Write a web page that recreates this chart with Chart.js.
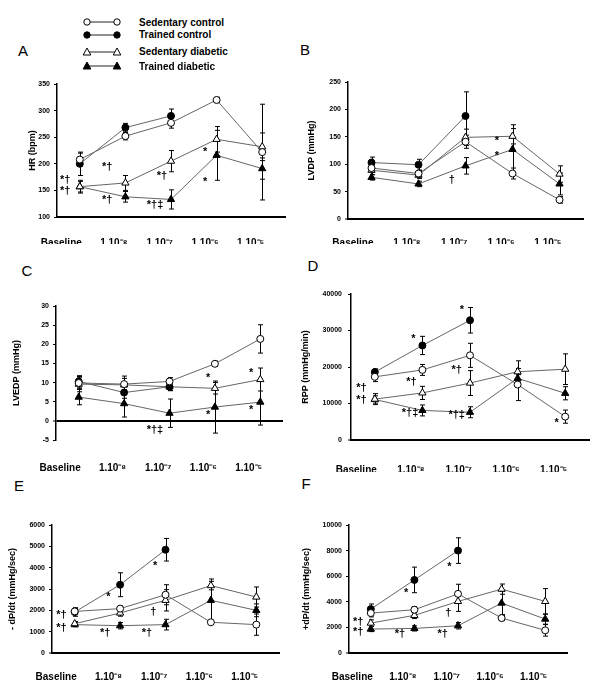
<!DOCTYPE html>
<html><head><meta charset="utf-8">
<script src="https://cdn.jsdelivr.net/npm/chart.js@4"></script>
<style>
body{margin:0;background:#fff;width:600px;height:689px;position:relative;overflow:hidden;font-family:"Liberation Sans",Arial,sans-serif;}
canvas{position:absolute;}
.pl{position:absolute;font-size:15px;color:#000;line-height:15px;transform:translate(-50%,-50%);}
.lr{position:absolute;left:80px;height:14px;display:flex;align-items:center;transform:translateY(-50%);}
.lr span{font-weight:bold;font-size:10px;margin-left:15px;white-space:nowrap;}
</style></head><body>
<script>
// ---------- data ----------
const categories = ['Baseline', '1.10⁻⁸', '1.10⁻⁷', '1.10⁻⁶', '1.10⁻⁵'];
const seriesNames = ['Sedentary control', 'Trained control', 'Sedentary diabetic', 'Trained diabetic'];

// A: HR (bpm)
const hrSC = [208, 252, 277, 320, 222];   const hrSCerr = [12, 7, 10, 5, 90];
const hrTC = [200, 268, 290, null, null]; const hrTCerr = [22, 8, 13, null, null];
const hrSD = [157, 164, 205, 246, 232];   const hrSDerr = [12, 14, 20, 24, 26];
const hrTD = [157, 138, 133, 216, 191];   const hrTDerr = [10, 10, 18, 47, 20];
const hrNotes = [[0.6, 194, '*†'], [1.8, 177, '*†'], [2.75, 222, '*'], [2.75, 166, '*'], [0.6, 132, '*†'], [1.65, 123, '*†‡'], [-0.32, 170, '*†'], [-0.32, 148, '*†']];

// B: LVDP (mmHg)
const lvdpSC = [93, 83, 141, 83, 35];      const lvdpSCerr = [8, 6, 12, 10, 6];
const lvdpTC = [103, 99, 188, null, null]; const lvdpTCerr = [10, 10, 44, null, null];
const lvdpSD = [89, 80, 149, 151, 82];     const lvdpSDerr = [8, 6, 15, 14, 15];
const lvdpTD = [76, 64, 97, 127, 64];      const lvdpTDerr = [5, 5, 15, 45, 20];
const lvdpNotes = [[2.67, 142, '*'], [2.67, 115, '*'], [1.71, 71, '†']];

// C: LVEDP (mmHg)
const lvedpSC = [9.9, 9.6, 10.3, 14.9, 21.4];  const lvedpSCerr = [1.5, 1.5, 1, 0.7, 3.7];
const lvedpTC = [10.3, 7.4, 8.9, null, null];  const lvedpTCerr = [1.5, 1.5, 1, null, null];
const lvedpSD = [9.6, 9.4, 8.9, 8.5, 10.8];    const lvedpSDerr = [2, 2.3, 1, 1.5, 3];
const lvedpTD = [6.2, 4.5, 2, 3.6, 4.9];       const lvedpTDerr = [2, 3.5, 3.7, 6.8, 6];
const lvedpNotes = [[2.85, 11.2, '*'], [2.85, 1.5, '*'], [3.8, 12.5, '*'], [3.8, 2.8, '*'], [1.68, -2.5, '*†‡']];

// D: RPP (mmHg/min)
const rppSC = [17300, 19200, 23200, 15200, 6400];  const rppSCerr = [1300, 1500, 3300, 4400, 1800];
const rppTC = [18600, 25900, 32800, null, null];   const rppTCerr = [900, 2500, 3500, null, null];
const rppSD = [11200, 12900, 15600, 18700, 19400]; const rppSDerr = [1500, 1800, 3400, 3000, 4200];
const rppTD = [11100, 8100, 7600, 16900, 12800];   const rppTDerr = [1000, 1500, 1500, 1000, 1800];
const rppNotes = [[1.83, 35600, '*'], [0.81, 27600, '*'], [1.72, 19200, '*†'], [0.77, 16000, '*†'], [-0.28, 14200, '*†'], [-0.28, 11000, '*†'], [0.74, 7300, '*†‡'], [1.72, 6850, '*†‡'], [3.82, 4600, '*']];

// E: -dP/dt (mmHg/sec)
const ndpSC = [1950, 2080, 2730, 1440, 1330]; const ndpSCerr = [150, 120, 470, 80, 500];
const ndpTC = [1920, 3200, 4840, null, null]; const ndpTCerr = [200, 560, 530, null, null];
const ndpSD = [1375, 1875, 2470, 3160, 2625]; const ndpSDerr = [100, 150, 500, 200, 470];
const ndpTD = [1330, 1280, 1330, 2470, 2000]; const ndpTDerr = [100, 150, 250, 1000, 300];
const ndpNotes = [[1.77, 4080, '*'], [0.74, 2610, '*'], [1.73, 1900, '†'], [-0.29, 1780, '*†'], [-0.29, 1190, '*†'], [0.67, 950, '*†'], [1.59, 950, '*†']];

// F: +dP/dt (mmHg/sec)
const pdpSC = [3120, 3380, 4620, 2730, 1770]; const pdpSCerr = [300, 250, 750, 200, 450];
const pdpTC = [3430, 5710, 8000, null, null]; const pdpTCerr = [400, 1000, 1000, null, null];
const pdpSD = [2340, 2940, 4030, 4990, 4030]; const pdpSDerr = [250, 250, 780, 400, 1000];
const pdpTD = [1870, 1920, 2130, 3900, 2650]; const pdpTDerr = [200, 200, 250, 900, 400];
const pdpNotes = [[1.8, 6740, '*'], [0.81, 4660, '*'], [1.78, 3100, '†'], [-0.29, 2450, '*†'], [-0.29, 1660, '*†'], [0.67, 1480, '*†'], [1.65, 1480, '*†']];

// ---------- styling ----------
const FONT = '"Liberation Sans", Arial, sans-serif';
Chart.defaults.font.family = FONT;
Chart.defaults.color = '#000';
const markerStyles = [
  {pointStyle: 'circle', radius: 3.5, fill: '#fff'},
  {pointStyle: 'circle', radius: 3.5, fill: '#000'},
  {pointStyle: 'triangle', radius: 4.2, fill: '#fff'},
  {pointStyle: 'triangle', radius: 4.2, fill: '#000'}
];

const errPlugin = {
  id: 'errbars',
  beforeDatasetsDraw(chart) {
    const {ctx, scales: {x, y}} = chart;
    ctx.save();
    ctx.strokeStyle = '#000';
    ctx.lineWidth = 1;
    chart.data.datasets.forEach(ds => {
      if (!ds.errors) return;
      ds.data.forEach((v, i) => {
        const e = ds.errors[i];
        if (v == null || e == null) return;
        const px = Math.round(x.getPixelForValue(i)) + 0.5;
        const yt = y.getPixelForValue(v + e), yb = y.getPixelForValue(v - e);
        ctx.beginPath();
        ctx.moveTo(px, yt); ctx.lineTo(px, yb);
        ctx.moveTo(px - 2.5, yt); ctx.lineTo(px + 2.5, yt);
        ctx.moveTo(px - 2.5, yb); ctx.lineTo(px + 2.5, yb);
        ctx.stroke();
      });
    });
    ctx.restore();
  },
  afterDatasetsDraw(chart) {
    const notes = chart.options.plugins.errbars && chart.options.plugins.errbars.notes;
    if (!notes) return;
    const {ctx, scales: {x, y}} = chart;
    ctx.save();
    ctx.fillStyle = '#000';
    ctx.font = 'bold 11px ' + FONT;
    ctx.textAlign = 'center';
    ctx.textBaseline = 'middle';
    notes.forEach(([i, v, t]) => ctx.fillText(t, x.getPixelForValue(i), y.getPixelForValue(v)));
    ctx.restore();
  }
};

function makePanel(p) {
  const c = document.createElement('canvas');
  const [x0, y0, w, h] = p.box;
  c.width = w; c.height = h;
  c.style.left = x0 + 'px'; c.style.top = y0 + 'px';
  c.style.width = w + 'px'; c.style.height = h + 'px';
  document.body.appendChild(c);
  const titleLeft = p.titleX - 5.4;
  const datasets = p.series.map((s, k) => ({
    label: seriesNames[k],
    data: s[0],
    errors: s[1],
    borderColor: '#666',
    borderWidth: 1,
    pointStyle: markerStyles[k].pointStyle,
    pointRadius: markerStyles[k].radius,
    pointBackgroundColor: markerStyles[k].fill,
    pointBorderColor: (p.pointColors && p.pointColors[k]) || '#000',
    pointBorderWidth: 1,
    tension: 0,
    spanGaps: false
  }));
  new Chart(c, {
    type: 'line',
    data: {labels: categories, datasets},
    plugins: [errPlugin],
    options: {
      responsive: false,
      animation: false,
      events: [],
      layout: {padding: {left: titleLeft - x0, right: x0 + w - p.area[1], top: p.area[2] - y0, bottom: 0}},
      plugins: {legend: {display: false}, tooltip: {enabled: false}, errbars: {notes: p.notes}},
      scales: {
        x: {
          type: 'category',
          offset: true,
          grid: {display: false},
          border: {display: !p.zeroLine, color: '#000', width: 2},
          ticks: {font: {size: 10, weight: 'bold'}, color: '#000', align: 'end', labelOffset: 2,
                  padding: p.labelPad, maxRotation: 0, autoSkip: false},
          afterFit: s => { s.height = y0 + h - p.area[3]; }
        },
        y: {
          min: p.min, max: p.max,
          ticks: {stepSize: p.step, font: {size: 7, weight: 'bold'}, color: '#000', padding: p.tickPad || 4,
                  callback: v => String(v)},
          grid: {
            drawOnChartArea: !!p.zeroLine,
            color: ctx => (p.zeroLine && ctx.tick && ctx.tick.value === 0) ? '#000' : 'rgba(0,0,0,0)',
            lineWidth: ctx => (ctx.tick && ctx.tick.value === 0) ? 2 : 1,
            tickLength: 3, tickColor: '#000', tickWidth: 1
          },
          border: {display: true, color: '#000', width: 1.5},
          title: {display: true, text: p.title, font: {size: 9, weight: 'bold'}, color: '#000', padding: 0},
          afterFit: s => { s.width = p.area[0] - titleLeft; }
        }
      }
    }
  });
}

makePanel({box: [0, 72, 300, 172], area: [57, 285, 84, 217], titleX: 33, labelPad: 12,
  min: 100, max: 350, step: 50, title: 'HR (bpm)', notes: hrNotes,
  series: [[hrSC, hrSCerr], [hrTC, hrTCerr], [hrSD, hrSDerr], [hrTD, hrTDerr]]});
makePanel({box: [300, 70, 300, 174], area: [348, 583, 82, 219], titleX: 312, labelPad: 10.5,
  min: 0, max: 250, step: 50, title: 'LVDP (mmHg)', notes: lvdpNotes,
  series: [[lvdpSC, lvdpSCerr], [lvdpTC, lvdpTCerr], [lvdpSD, lvdpSDerr], [lvdpTD, lvdpTDerr]]});
makePanel({box: [0, 294, 300, 178], area: [56, 283, 306, 440], titleX: 17, labelPad: 14, zeroLine: true,
  min: -5, max: 30, step: 5, title: 'LVEDP (mmHg)', notes: lvedpNotes,
  series: [[lvedpSC, lvedpSCerr], [lvedpTC, lvedpTCerr], [lvedpSD, lvedpSDerr], [lvedpTD, lvedpTDerr]]});
makePanel({box: [300, 282, 300, 190], area: [351, 589, 294, 440], titleX: 305.4, labelPad: 16, tickPad: 6,
  min: 0, max: 40000, step: 10000, title: 'RPP (mmHg/min)', notes: rppNotes,
  series: [[rppSC, rppSCerr], [rppTC, rppTCerr], [rppSD, rppSDerr], [rppTD, rppTDerr]]});
makePanel({box: [0, 513, 300, 176], area: [52, 279, 525, 653], titleX: 13, labelPad: 10,
  min: 0, max: 6000, step: 1000, title: '- dP/dt (mmHg/sec)', notes: ndpNotes,
  series: [[ndpSC, ndpSCerr], [ndpTC, ndpTCerr], [ndpSD, ndpSDerr], [ndpTD, ndpTDerr]]});
makePanel({box: [300, 513, 300, 176], area: [349, 567, 525, 653], titleX: 307, labelPad: 10,
  min: 0, max: 10000, step: 2000, title: '+dP/dt (mmHg/sec)', notes: pdpNotes,
  series: [[pdpSC, pdpSCerr], [pdpTC, pdpTCerr], [pdpSD, pdpSDerr], [pdpTD, pdpTDerr]]});

// panel letters
[['A', 23, 50], ['B', 305, 49], ['C', 27, 270], ['D', 313, 265], ['E', 19, 485], ['F', 306, 483]].forEach(([t, x, y]) => {
  const d = document.createElement('div');
  d.className = 'pl'; d.textContent = t;
  d.style.left = x + 'px'; d.style.top = y + 'px';
  document.body.appendChild(d);
});

// legend
const legendY = [22, 34.5, 51.5, 66];
seriesNames.forEach((name, k) => {
  const row = document.createElement('div');
  row.className = 'lr';
  row.style.top = legendY[k] + 'px';
  const m = markerStyles[k];
  let mk = '';
  [7, 37].forEach(cx => {
    if (m.pointStyle === 'circle') mk += `<circle cx="${cx}" cy="7" r="3.2" fill="${m.fill}" stroke="#000" stroke-width="1"/>`;
    else mk += `<polygon points="${cx},3 ${cx + 3.8},10 ${cx - 3.8},10" fill="${m.fill}" stroke="#000" stroke-width="1"/>`;
  });
  row.innerHTML = `<svg width="44" height="14"><line x1="7" y1="7" x2="37" y2="7" stroke="#222" stroke-width="1"/>${mk}</svg><span>${name}</span>`;
  document.body.appendChild(row);
});
</script>
</body></html>
